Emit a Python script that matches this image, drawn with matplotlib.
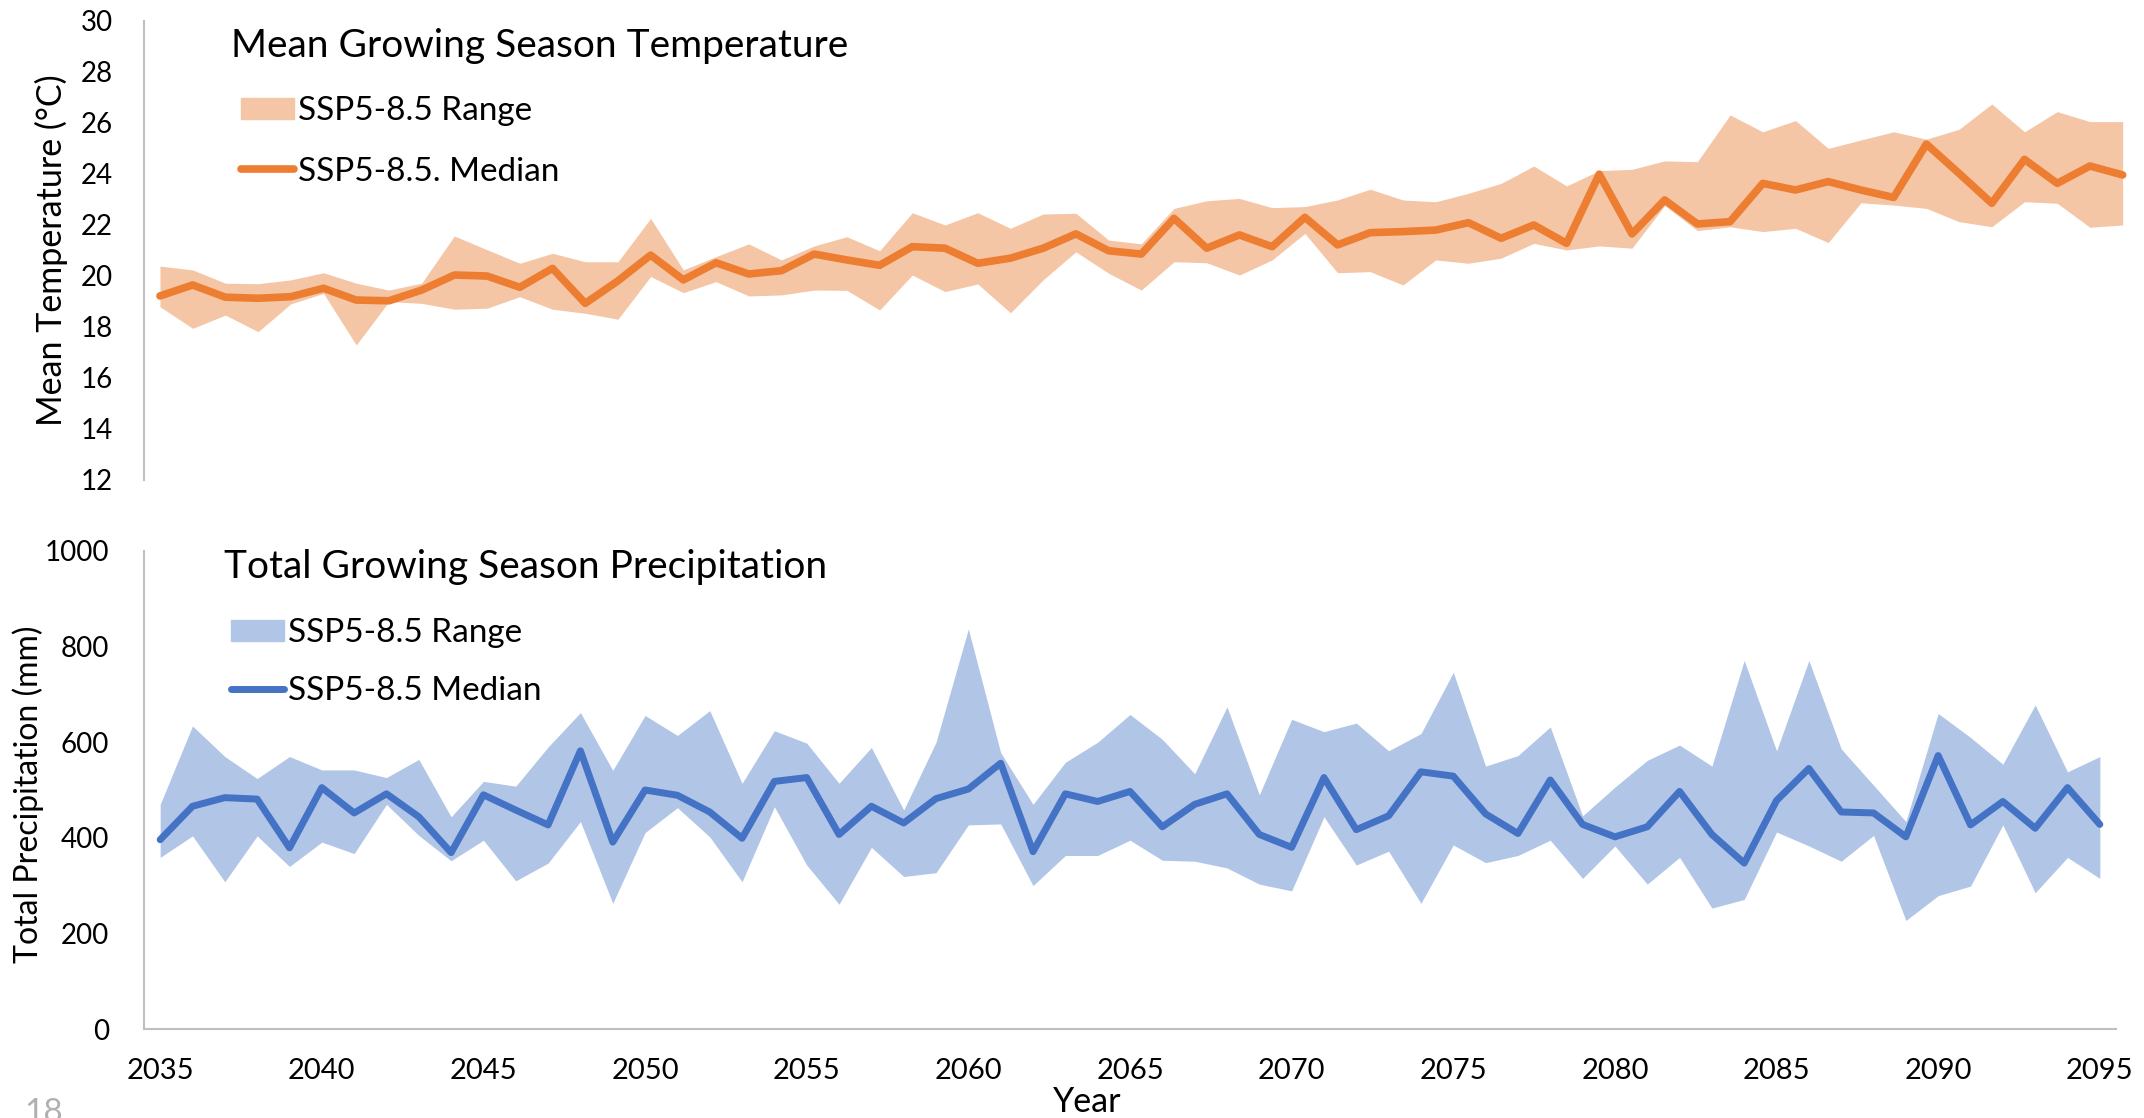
import numpy as np
import matplotlib
matplotlib.use("Agg")
from matplotlib import pyplot as plt
from matplotlib.patches import Patch
from matplotlib.lines import Line2D

plt.rcParams['font.family'] = ['Lato', 'DejaVu Sans']

years = list(range(2035, 2096))

# growing season temperature, degC
temp_median = [19.21, 19.64, 19.16, 19.12, 19.18, 19.51, 19.05, 19.02, 19.44, 20.03,
               19.99, 19.55, 20.29, 18.92, 19.80, 20.81, 19.84, 20.51, 20.07, 20.20,
               20.85, 20.62, 20.41, 21.14, 21.08, 20.49, 20.69, 21.08, 21.64, 20.98,
               20.85, 22.25, 21.08, 21.60, 21.14, 22.29, 21.21, 21.69, 21.73, 21.79,
               22.08, 21.47, 21.99, 21.27, 23.98, 21.64, 22.97, 22.03, 22.12, 23.62,
               23.36, 23.69, 23.36, 23.07, 25.16, 24.01, 22.84, 24.56, 23.62, 24.30,
               23.95]
temp_upper = [20.38, 20.23, 19.71, 19.69, 19.84, 20.12, 19.71, 19.44, 19.71, 21.56,
              21.02, 20.49, 20.88, 20.55, 20.55, 22.25, 20.23, 20.75, 21.25, 20.62,
              21.17, 21.53, 20.98, 22.47, 21.99, 22.47, 21.86, 22.42, 22.45, 21.40,
              21.25, 22.64, 22.94, 23.03, 22.67, 22.71, 22.97, 23.39, 22.97, 22.90,
              23.23, 23.62, 24.30, 23.52, 24.12, 24.17, 24.50, 24.47, 26.30, 25.64,
              26.08, 24.99, 25.32, 25.64, 25.35, 25.74, 26.73, 25.64, 26.43, 26.04,
              26.04]
temp_lower = [18.79, 17.94, 18.46, 17.81, 18.90, 19.31, 17.29, 18.99, 18.92, 18.69,
              18.73, 19.18, 18.69, 18.53, 18.30, 19.97, 19.34, 19.77, 19.21, 19.25,
              19.44, 19.43, 18.66, 20.03, 19.38, 19.68, 18.55, 19.84, 20.94, 20.10,
              19.44, 20.55, 20.51, 20.03, 20.62, 21.66, 20.12, 20.16, 19.64, 20.62,
              20.49, 20.69, 21.27, 21.01, 21.17, 21.08, 22.75, 21.77, 21.92, 21.73,
              21.86, 21.30, 22.86, 22.77, 22.64, 22.12, 21.92, 22.90, 22.84, 21.90,
              21.99]

# growing season precipitation, mm
prec_median = [396, 466, 484, 481, 379, 505, 452, 492, 444, 369,
               490, 458, 427, 582, 391, 500, 489, 454, 399, 518,
               526, 407, 466, 431, 482, 502, 556, 371, 492, 476,
               497, 423, 470, 492, 407, 380, 526, 417, 446, 538,
               529, 450, 409, 521, 428, 402, 423, 497, 407, 347,
               478, 545, 454, 452, 402, 572, 427, 476, 420, 505,
               428]
prec_upper = [470, 634, 570, 524, 570, 542, 542, 526, 564, 444,
              518, 508, 590, 662, 541, 656, 614, 666, 514, 624,
              598, 514, 589, 458, 600, 837, 578, 470, 558, 600,
              658, 606, 534, 674, 490, 648, 622, 640, 582, 618,
              746, 550, 572, 632, 446, 506, 562, 594, 550, 771,
              582, 771, 586, 510, 434, 660, 610, 554, 678, 538,
              570]
prec_lower = [359, 404, 308, 404, 340, 391, 367, 470, 405, 352,
              395, 310, 347, 434, 263, 411, 463, 402, 308, 465,
              343, 261, 380, 319, 327, 427, 429, 300, 363, 363,
              395, 353, 351, 337, 303, 289, 444, 343, 372, 263,
              385, 348, 363, 395, 315, 383, 303, 359, 253, 271,
              412, 383, 351, 405, 227, 279, 299, 427, 285, 359,
              315]

orange = '#ED7D31'
orange_band = '#F5C6A6'
blue = '#4472C4'
blue_band = '#B1C5E7'
axis_grey = '#BFBFBF'

W, H = 2144, 1118
fig = plt.figure(figsize=(W / 100, H / 100), dpi=100)


def fx(px):
    return px / W


def fy(py):
    return 1 - py / H


# temperature panel
ax1 = fig.add_axes([fx(143.6), fy(480), fx(2139) - fx(143.6), fy(20.5) - fy(480)])
ax1.fill_between(years, temp_lower, temp_upper, color=orange_band, linewidth=0)
ax1.plot(years, temp_median, color=orange, lw=5.5, solid_joinstyle='round',
         solid_capstyle='round')
ax1.set_xlim(2034.5, 2095.5)
ax1.set_ylim(12, 30)
ax1.set_yticks(range(12, 31, 2))
ax1.set_xticks([])
for s in ['top', 'right', 'bottom']:
    ax1.spines[s].set_visible(False)
ax1.spines['left'].set_color(axis_grey)
ax1.spines['left'].set_linewidth(1.5)
ax1.tick_params(axis='y', length=0, pad=22, labelsize=20)

ax1.legend(handles=[Patch(color=orange_band, label='SSP5-8.5 Range'),
                    Line2D([], [], color=orange, lw=5.5,
                           solid_capstyle='round', label='SSP5-8.5. Median')],
           loc='upper left', bbox_to_anchor=(fx(241), fy(96)),
           bbox_transform=fig.transFigure, frameon=False, fontsize=24,
           borderpad=0, borderaxespad=0, handlelength=1.6, handleheight=0.6,
           handletextpad=0.1, labelspacing=0.92)

# precipitation panel
ax2 = fig.add_axes([fx(144), fy(1029), fx(2116) - fx(144), fy(551) - fy(1029)])
ax2.fill_between(years, prec_lower, prec_upper, color=blue_band, linewidth=0)
ax2.plot(years, prec_median, color=blue, lw=5, solid_joinstyle='round',
         solid_capstyle='round')
ax2.set_xlim(2034.5, 2095.5)
ax2.set_ylim(0, 1000)
ax2.set_yticks(range(0, 1001, 200))
ax2.set_xticks(range(2035, 2096, 5))
for s in ['top', 'right']:
    ax2.spines[s].set_visible(False)
for s in ['left', 'bottom']:
    ax2.spines[s].set_color(axis_grey)
    ax2.spines[s].set_linewidth(1.5)
ax2.tick_params(axis='y', length=0, pad=25, labelsize=20)
ax2.tick_params(axis='x', length=0, pad=21, labelsize=21)

ax2.legend(handles=[Patch(color=blue_band, label='SSP5-8.5 Range'),
                    Line2D([], [], color=blue, lw=5,
                           solid_capstyle='round', label='SSP5-8.5 Median')],
           loc='upper left', bbox_to_anchor=(fx(231), fy(618)),
           bbox_transform=fig.transFigure, frameon=False, fontsize=24,
           borderpad=0, borderaxespad=0, handlelength=1.6, handleheight=0.6,
           handletextpad=0.1, labelspacing=0.85)

# axis titles and panel headings
fig.text(fx(51), fy(250), 'Mean Temperature (°C)', fontsize=24.5, rotation=90,
         ha='center', va='center')
fig.text(fx(28), fy(794), 'Total Precipitation (mm)', fontsize=23, rotation=90,
         ha='center', va='center')
fig.text(fx(231), fy(46), 'Mean Growing Season Temperature', fontsize=28,
         ha='left', va='center')
fig.text(fx(224), fy(567), 'Total Growing Season Precipitation', fontsize=28,
         ha='left', va='center')
fig.text(fx(1087), fy(1102), 'Year', fontsize=24.5, ha='center', va='center')
fig.text(fx(44), fy(1098), '18', fontsize=24, color='#B0B0B0', ha='center', va='top')

fig.savefig('out.png', dpi=100, facecolor='white')
